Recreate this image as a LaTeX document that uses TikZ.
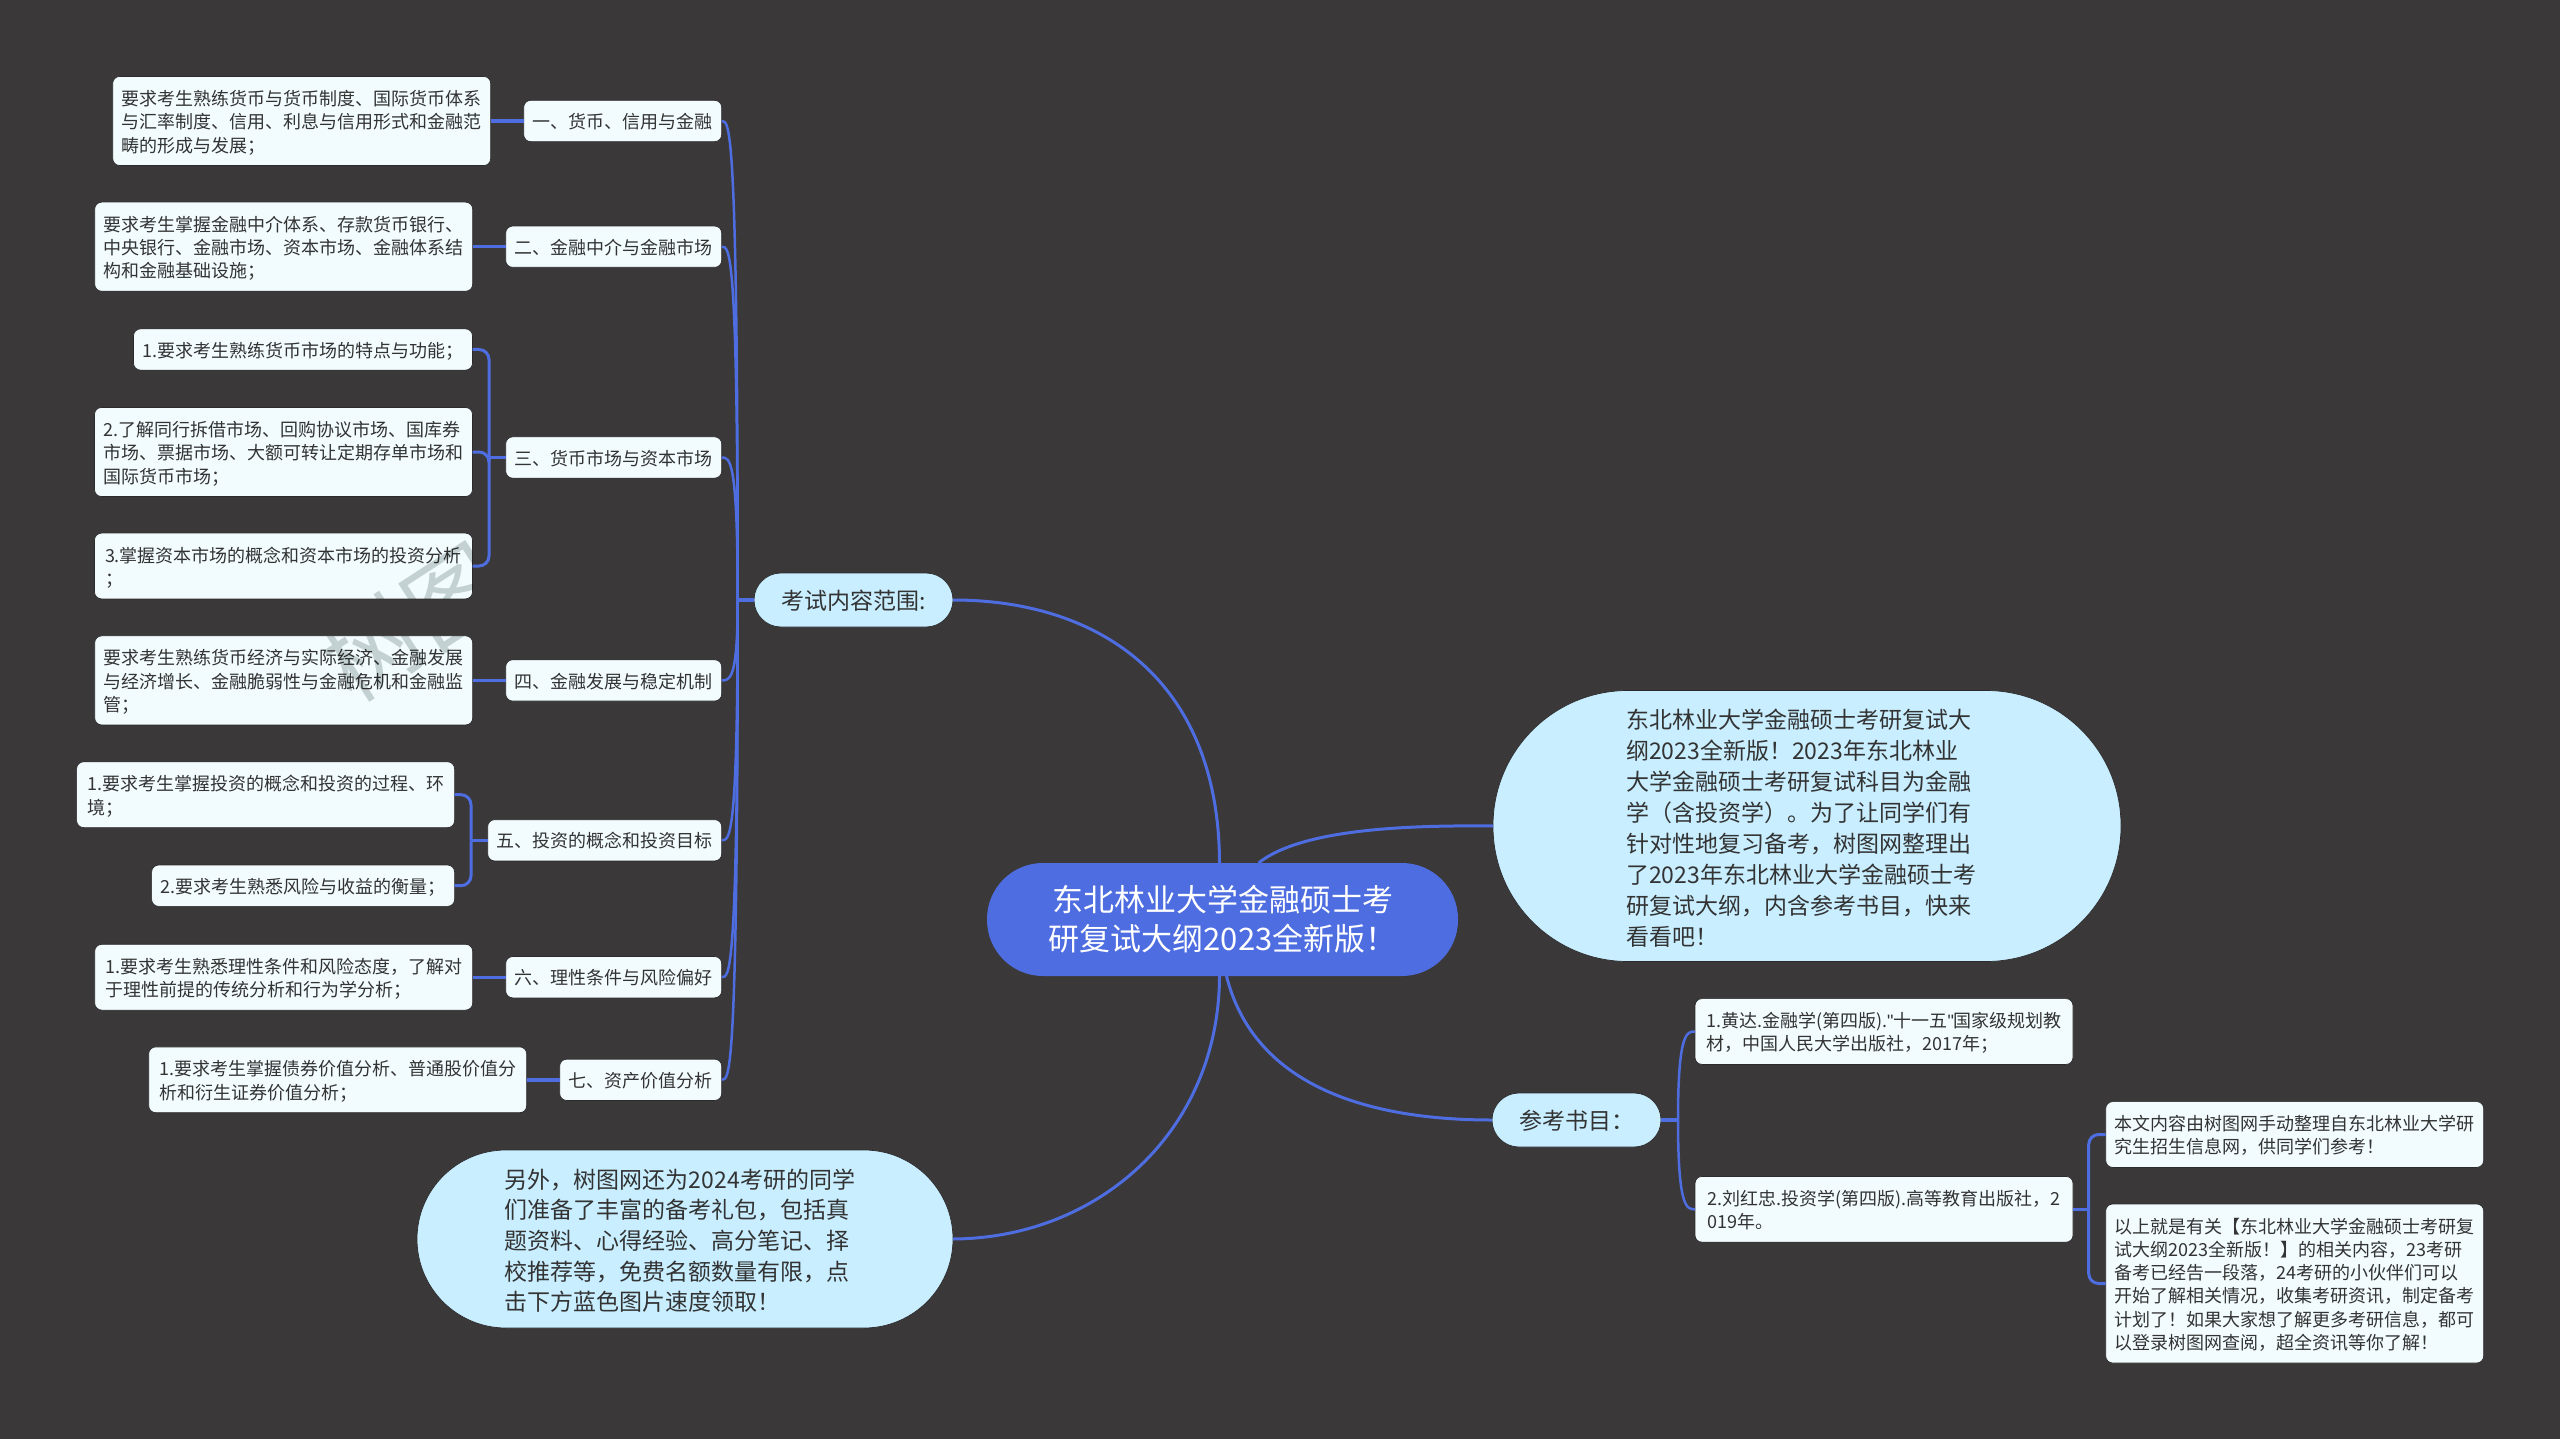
\documentclass[tikz,border=0pt]{standalone}
\usepackage{fontspec}
\setmainfont{Noto Sans CJK SC}
\newfontfamily\quotefont{Liberation Sans}
\usetikzlibrary{positioning,calc}
\definecolor{bgdark}{HTML}{3A3839}
\definecolor{rimdark}{HTML}{2C2B2C}
\definecolor{linkblue}{HTML}{4D6DE0}
\definecolor{pillblue}{HTML}{C8EEFF}
\definecolor{leafwhite}{HTML}{F2FCFF}
\definecolor{inkgray}{HTML}{333333}
\definecolor{markgray}{HTML}{CFD4D2}
% line heights of the small boxes: one line, then first and last of many
\newcommand{\boxstrut}{\rule[-4pt]{0pt}{23.3pt}}
\newcommand{\topline}{\rule{0pt}{20pt}}
\newcommand{\lastline}{\rule[-4.5pt]{0pt}{1pt}}
\tikzset{
    %Define style for boxes
    topicnode/.style={
             rectangle, fill=linkblue, text=white, align=left,
             minimum width=471pt, minimum height=113pt,
             rounded corners=56pt, outer sep=0pt,
             font=\fontsize{31pt}{39pt}\selectfont},
    pillnode/.style={
             rectangle, fill=pillblue, draw=rimdark, line width=0.7pt,
             text=inkgray, align=left, outer sep=0pt,
             font=\fontsize{23pt}{31pt}\selectfont},
    smallpill/.style={
             pillnode, minimum height=54pt, rounded corners=27pt,
             text height=24pt, text depth=5pt},
    leafbox/.style={
             rectangle, fill=leafwhite, draw=rimdark, line width=0.7pt,
             text=inkgray, align=left, inner sep=9pt, outer sep=0pt,
             rounded corners=7pt,
             font=\fontsize{18pt}{23.3pt}\selectfont},
    branchnode/.style={
             leafbox,
             execute at begin node=\boxstrut, execute at end node=\boxstrut},
    widenode/.style={
             leafbox, minimum width=378pt},
    % Define link styles
    mainlink/.style={
            draw=linkblue, line width=3pt},
    branchlink/.style={
            draw=linkblue, line width=2.5pt},
    stublink/.style={
            draw=linkblue, line width=3.4pt},
    buslink/.style={
            draw=linkblue, line width=3pt,
            rounded corners=10pt,
            to path={|- (\tikztotarget)}},
    watermark/.style={
            text=markgray, rotate=33, anchor=west,
            font=\fontsize{96pt}{96pt}\selectfont}
}
\begin{document}
\begin{tikzpicture}[x=1pt, y=-1pt, node distance=33pt]
 \useasboundingbox (0,0) rectangle (2560,1439);
 \fill[bgdark] (0,0) rectangle (2560,1439);
 % centre and big pills
 \node[topicnode] (topic) at (1222.5,919.5) {\hspace*{4pt}东北林业大学金融硕士考\\研复试大纲2023全新版！};
 \node[smallpill, minimum width=199pt] (scope) at (853.5,600) {考试内容范围:};
 \node[pillnode, minimum width=628pt, minimum height=271pt, rounded corners=135pt, text width=362pt] (intro) at (1807,826) {\rule{0pt}{23pt}东北林业大学金融硕士考研复试大\\纲2023全新版！2023年东北林业\\大学金融硕士考研复试科目为金融\\学（含投资学）。为了让同学们有\\针对性地复习备考，树图网整理出\\了2023年东北林业大学金融硕士考\\研复试大纲，内含参考书目，快来\\看看吧！};
 \node[pillnode, minimum width=536pt, minimum height=178pt, rounded corners=89pt, font=\fontsize{23pt}{30.7pt}\selectfont] (extra) at (685,1239) {\rule{0pt}{23pt}另外，树图网还为2024考研的同学\hspace*{10pt}\\们准备了丰富的备考礼包，包括真\\题资料、心得经验、高分笔记、择\\校推荐等，免费名额数量有限，点\\击下方蓝色图片速度领取！};
 \node[smallpill, minimum width=169pt] (books) at (1576.5,1120) {参考书目：};
 % left branches
 \node[branchnode, anchor=east] (money) at (721.7,121) {一、货币、信用与金融};
 \node[branchnode, anchor=east] (agency) at (721.7,246.7) {二、金融中介与金融市场};
 \node[branchnode, anchor=east] (market) at (721.7,457.5) {三、货币市场与资本市场};
 \node[branchnode, anchor=east] (stability) at (721.7,680.4) {四、金融发展与稳定机制};
 \node[branchnode, anchor=east] (invest) at (721.7,840.3) {五、投资的概念和投资目标};
 \node[branchnode, anchor=east] (rational) at (721.7,977.2) {六、理性条件与风险偏好};
 \node[branchnode, anchor=east] (asset) at (721.7,1079.8) {七、资产价值分析};
 % left leaves
 \node[widenode, left=of money] (moneyleaf) {\topline 要求考生熟练货币与货币制度、国际货币体系\\与汇率制度、信用、利息与信用形式和金融范\\畴的形成与发展；\lastline};
 \node[widenode, left=of agency] (agencyleaf) {\topline 要求考生掌握金融中介体系、存款货币银行、\\中央银行、金融市场、资本市场、金融体系结\\构和金融基础设施；\lastline};
 \node[branchnode, anchor=east] (marketone) at (472.5,349.5) {1.要求考生熟练货币市场的特点与功能；};
 \node[widenode, anchor=east] (markettwo) at (472.5,452) {\topline 2.了解同行拆借市场、回购协议市场、国库券\\市场、票据市场、大额可转让定期存单市场和\\国际货币市场；\lastline};
 \node[widenode, anchor=east] (marketthree) at (472.5,566) {\topline 3.掌握资本市场的概念和资本市场的投资分析\\；\lastline};
 \node[widenode, left=of stability] (stabilityleaf) {\topline 要求考生熟练货币经济与实际经济、金融发展\\与经济增长、金融脆弱性与金融危机和金融监\\管；\lastline};
 \node[widenode, anchor=east] (investone) at (454.6,794.7) {\topline 1.要求考生掌握投资的概念和投资的过程、环\\境；\lastline};
 \node[branchnode, anchor=east] (investtwo) at (454.6,885.7) {2.要求考生熟悉风险与收益的衡量；};
 \node[widenode, left=of rational] (rationalleaf) {\topline 1.要求考生熟悉理性条件和风险态度，了解对\\于理性前提的传统分析和行为学分析；\lastline};
 \node[widenode, left=of asset] (assetleaf) {\topline 1.要求考生掌握债券价值分析、普通股价值分\\析和衍生证券价值分析；\lastline};
 % right leaves
 \node[widenode, anchor=west] (bookone) at (1695,1031.5) {\topline 1.黄达.金融学(第四版).{\quotefont"}十一五{\quotefont"}国家级规划教\\材，中国人民大学出版社，2017年；\lastline};
 \node[widenode, anchor=west] (booktwo) at (1695,1209.3) {\topline 2.刘红忠.投资学(第四版).高等教育出版社，2\\019年。\lastline};
 \node[widenode, anchor=west] (noteone) at (2105.7,1134.5) {\topline 本文内容由树图网手动整理自东北林业大学研\\究生招生信息网，供同学们参考！\lastline};
 \node[widenode, anchor=west] (notetwo) at (2105.7,1283.5) {\topline 以上就是有关【东北林业大学金融硕士考研复\\试大纲2023全新版！】的相关内容，23考研\\备考已经告一段落，24考研的小伙伴们可以\\开始了解相关情况，收集考研资讯，制定备考\\计划了！如果大家想了解更多考研信息，都可\\以登录树图网查阅，超全资讯等你了解！\lastline};
 % junctions
 \coordinate (leftfan) at (737.7,600);
 \coordinate (rightfan) at (1678,1120);
 \coordinate (marketbus) at (489,457.5);
 \coordinate (investbus) at (471,840.3);
 \coordinate (bookbus) at (2088.7,1209.3);
 % links
 \draw[mainlink] ([xshift=-3pt]topic.north) .. controls (1219,680) and (1100,600) .. (scope.east);
 \draw[mainlink] ([xshift=36pt]topic.north) .. controls (1300,830) and (1400,825) .. (intro.west);
 \draw[mainlink] ([xshift=-3pt]topic.south) .. controls (1219,1130) and (1100,1238) .. (extra.east);
 \draw[mainlink] ([xshift=4pt]topic.south) .. controls (1250,1070) and (1340,1120) .. (books.west);
 \path (scope.west) edge[stublink] (leftfan)
       (books.east) edge[stublink] (rightfan)
       (money.west) edge[stublink] (moneyleaf.east)
       (agency.west) edge[stublink] (agencyleaf.east)
       (stability.west) edge[stublink] (stabilityleaf.east)
       (rational.west) edge[stublink] (rationalleaf.east)
       (asset.west) edge[stublink] (assetleaf.east)
       (market.west) edge[stublink] (marketbus)
       (invest.west) edge[stublink] (investbus)
       (booktwo.east) edge[stublink] (bookbus)
       (marketbus) edge[buslink] (marketone.east)
       (marketbus) edge[buslink] (markettwo.east)
       (marketbus) edge[buslink] (marketthree.east)
       (investbus) edge[buslink] (investone.east)
       (investbus) edge[buslink] (investtwo.east)
       (bookbus) edge[buslink] (noteone.west)
       (bookbus) edge[buslink] (notetwo.west);
 \foreach \branchname in {money,agency,market,stability,invest,rational,asset}
   \draw[branchlink] (leftfan) .. controls (leftfan |- \branchname.east) and ($(\branchname.east)+(8,0)$) .. (\branchname.east);
 \foreach \branchname in {bookone,booktwo}
   \draw[branchlink] (rightfan) .. controls (rightfan |- \branchname.west) and ($(\branchname.west)+(-8,0)$) .. (\branchname.west);
 % grey mark shows on the two white boxes only
 \begin{scope}[blend mode=multiply]
  \clip (marketthree.north west) rectangle (marketthree.south east)
        (stabilityleaf.north west) rectangle (stabilityleaf.south east);
  \node[watermark] (markone) at (330,676) {树图};
 \end{scope}
\end{tikzpicture}
\end{document}
